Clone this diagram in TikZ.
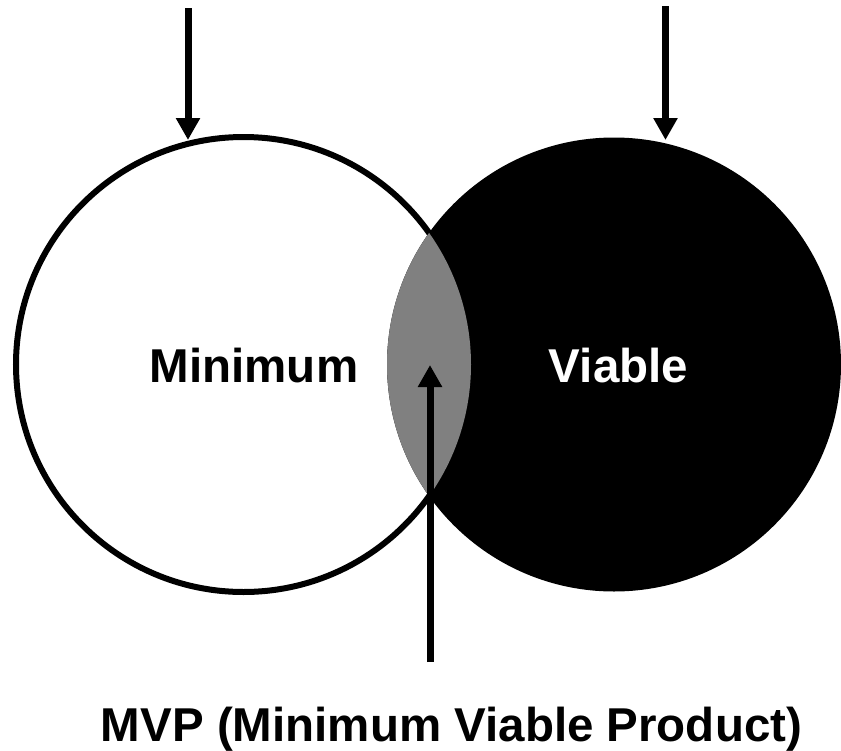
\documentclass[tikz,border=0pt]{standalone}
\usepackage{fontspec}
\setmainfont{Liberation Sans}
\usetikzlibrary{arrows.meta}
\definecolor{lensgray}{RGB}{128,128,128}
\begin{document}
\begin{tikzpicture}[x=1pt,y=-1pt,
  lbl/.style={font=\fontsize{47.5}{57}\selectfont\bfseries, inner sep=0pt, anchor=base},
  pointer/.style={line width=7pt, -{Triangle[width=23pt,length=22pt]}}]
\useasboundingbox (0,0) rectangle (841,750);
\fill[white] (0,0) rectangle (841,750);
\coordinate (cL) at (243.5,364.5);
\coordinate (cR) at (614,364.5);
% circles
\draw[line width=6pt, fill=white] (cL) circle[radius=227.5];
\fill[black] (cR) circle[radius=227];
\begin{scope}
  \clip (cL) circle[radius=227.5];
  \fill[lensgray] (cR) circle[radius=227];
\end{scope}
% labels
\node[lbl] (minimum) at (254,382) {Minimum};
\node[lbl, text=white] (viable) at (618.5,382) {Viable};
\node[lbl] (mvp) at (451.5,741) {MVP (Minimum Viable Product)};
% arrows
\coordinate (topL) at (188,8);
\coordinate (tipL) at (188,140);
\coordinate (topR) at (665.5,6);
\coordinate (tipR) at (665.5,140);
\coordinate (startM) at (430,662);
\coordinate (tipM) at (430,365);
\draw[pointer] (topL) -- (tipL);
\draw[pointer] (topR) -- (tipR);
\draw[pointer] (startM) -- (tipM);
\end{tikzpicture}
\end{document}
